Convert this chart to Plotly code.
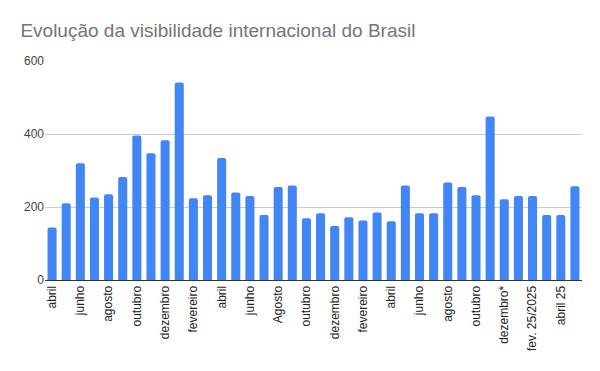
import plotly.graph_objects as go

categories = [
    "abril 22", "maio 22", "junho 22", "julho 22", "agosto 22", "setembro 22",
    "outubro 22", "novembro 22", "dezembro 22", "janeiro 23", "fevereiro 23", "março 23",
    "abril 23", "maio 23", "junho 23", "julho 23", "Agosto 23", "setembro 23",
    "outubro 23", "novembro 23", "dezembro 23", "janeiro 24", "fevereiro 24", "março 24",
    "abril 24", "maio 24", "junho 24", "julho 24", "agosto 24", "setembro 24",
    "outubro 24", "novembro 24", "dezembro* 24", "janeiro 25", "fev. 25/2025", "março 25",
    "abril 25", "maio 25",
]
tick_labels = [
    "abril", "", "junho", "", "agosto", "", "outubro", "", "dezembro", "", "fevereiro", "",
    "abril", "", "junho", "", "Agosto", "", "outubro", "", "dezembro", "", "fevereiro", "",
    "abril", "", "junho", "", "agosto", "", "outubro", "", "dezembro*", "", "fev. 25/2025", "",
    "abril 25", "",
]
values = [
    144, 210, 320, 226, 235, 282, 396, 347, 383, 541, 224, 232,
    334, 240, 230, 178, 255, 259, 169, 183, 148, 172, 163, 185,
    161, 259, 183, 183, 267, 255, 232, 448, 221, 230, 230, 178,
    178, 257,
]

FONT = "Arial, Liberation Sans, sans-serif"

fig = go.Figure(go.Bar(
    x=categories, y=values,
    marker=dict(color="#4285F4", line=dict(width=0), cornerradius=2),
))

fig.update_layout(
    width=600, height=371,
    paper_bgcolor="white", plot_bgcolor="white",
    margin=dict(l=45, r=18, t=61, b=91),
    bargap=0.36,
    showlegend=False,
    title=dict(
        text="Evolução da visibilidade internacional do Brasil",
        x=0.034, xanchor="left", y=0.918, yanchor="middle",
        font=dict(family=FONT, size=19, color="#757575"),
    ),
    font=dict(family=FONT, size=12, color="#444444"),
)
fig.update_xaxes(
    type="category", automargin=False,
    tickmode="array", tickvals=categories, ticktext=tick_labels,
    tickangle=-90, tickfont=dict(size=12, color="#222222"),
    showline=True, linecolor="#333333", linewidth=1,
    showgrid=False, ticks="",
)
fig.update_yaxes(
    range=[0, 600], tickvals=[0, 200, 400, 600], automargin=False,
    showgrid=True, gridcolor="#cccccc", gridwidth=1,
    zeroline=False, ticks="", tickfont=dict(size=12, color="#444444"),
)

fig.write_html(
    "out.html",
    config={"displayModeBar": False},
    post_script="document.body.style.margin='0';",
)
